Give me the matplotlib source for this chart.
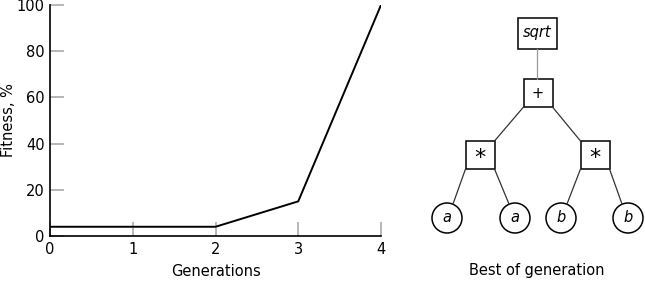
import matplotlib
matplotlib.use('Agg')
import matplotlib.pyplot as plt
from matplotlib.patches import Rectangle, Circle

# datos de la curva de fitness
generations = [0, 1, 2, 3, 4]
fitness = [4, 4, 4, 15, 100]
yticks = [0, 20, 40, 60, 80, 100]

# arbol del mejor individuo: etiqueta, forma, padre
node_labels = ['sqrt', '+', '*', '*', 'a', 'a', 'b', 'b']
node_kind = ['box', 'box', 'box', 'box', 'circle', 'circle', 'circle', 'circle']
node_parent = [None, 0, 1, 1, 2, 2, 3, 3]
node_italic = [True, False, False, False, True, True, True, True]

# posiciones en pixeles del dibujo
node_xy = [(537, 33), (538, 93), (480, 155), (595, 155),
           (447, 218), (515, 218), (561, 218), (628, 218)]

W, H = 645, 283
plt.rcParams['font.family'] = 'DejaVu Sans'
fig = plt.figure(figsize=(W / 100, H / 100), dpi=100)

ax = fig.add_axes([50 / W, 1 - 236 / H, 331 / W, 231 / H])
ax.plot(generations, fitness, color='black', lw=1.4)
ax.set_xlim(0, 4)
ax.set_ylim(0, 100)
ax.set_xticks(generations)
ax.set_yticks(yticks)
ax.spines['top'].set_visible(False)
ax.spines['right'].set_visible(False)
ax.spines['left'].set_linewidth(1.2)
ax.spines['bottom'].set_linewidth(1.2)
ax.tick_params(direction='in', length=10, color='#aaaaaa', width=1.2, labelsize=10.5, pad=4)
ax.set_xlabel('Generations', fontsize=10.5)
ax.xaxis.set_label_coords(0.5, -35 / 231)
ax.xaxis.label.set_va('center')
ax.set_ylabel('Fitness, %', fontsize=10.5, va='center')
ax.yaxis.set_label_coords(-41 / 331, 0.5)

# arbol en coordenadas de pixel
ax2 = fig.add_axes([0, 0, 1, 1])
ax2.set_xlim(0, W)
ax2.set_ylim(H, 0)
ax2.axis('off')

box_w = {0: 19.5}

def box_size(i):
    return box_w.get(i, 14.5), (15.5 if i == 0 else 14)

for i, p in enumerate(node_parent):
    if p is None:
        continue
    px, py = node_xy[p]
    cx, cy = node_xy[i]
    phw, phh = box_size(p)
    if abs(cx - px) < 3:
        # enlace vertical
        x0, y0, x1, y1 = px, py + phh, px, cy - box_size(i)[1]
    elif node_kind[i] == 'circle':
        x0 = px + (phw if cx > px else -phw)
        y0 = py + phh
        x1 = cx + (6 if x0 > cx else -6)
        y1 = cy - 14
    else:
        chw, chh = box_size(i)
        x0 = px + (phw if cx > px else -phw)
        y0 = py + phh
        x1 = cx + (chw if px > cx else -chw)
        y1 = cy - chh
    col = '#999999' if p == 0 else '#333333'
    ax2.plot([x0, x1], [y0, y1], color=col, lw=0.9)

for i, lab in enumerate(node_labels):
    x, y = node_xy[i]
    if node_kind[i] == 'box':
        hw, hh = box_size(i)
        ax2.add_patch(Rectangle((x - hw, y - hh), 2 * hw, 2 * hh,
                                facecolor='white', edgecolor='black', lw=1.1))
    else:
        ax2.add_patch(Circle((x, y), 15, facecolor='white', edgecolor='black', lw=1.1))
    fs = 16 if lab == '*' else 10.5
    ax2.text(x, y + (3 if lab == '*' else 0), lab, ha='center', va='center', fontsize=fs,
             style='italic' if node_italic[i] else 'normal')

ax2.text(537, 271, 'Best of generation', ha='center', va='center', fontsize=10.5)

fig.savefig('out.png', dpi=100)
